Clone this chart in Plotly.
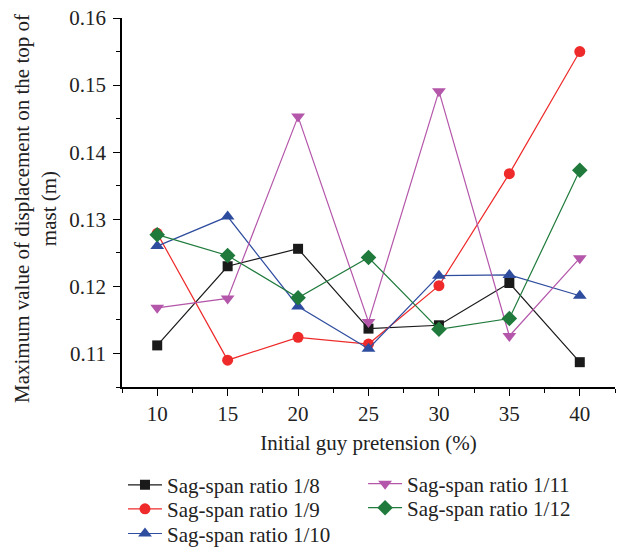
import plotly.graph_objects as go

# Initial guy pretension (%)
pretension = [10, 15, 20, 25, 30, 35, 40]

# Maximum displacement at mast top (m) for each sag-span ratio
ratio_1_8 = [0.1112, 0.1230, 0.1256, 0.1137, 0.1142, 0.1205, 0.1087]
ratio_1_9 = [0.1279, 0.1090, 0.1124, 0.1114, 0.1201, 0.1368, 0.1550]
ratio_1_10 = [0.1260, 0.1304, 0.1170, 0.1107, 0.1216, 0.1217, 0.1186]
ratio_1_11 = [0.1168, 0.1182, 0.1453, 0.1147, 0.1491, 0.1126, 0.1242]
ratio_1_12 = [0.1277, 0.1246, 0.1183, 0.1243, 0.1136, 0.1152, 0.1373]

series_names = ["Sag-span ratio 1/8", "Sag-span ratio 1/9", "Sag-span ratio 1/10",
                "Sag-span ratio 1/11", "Sag-span ratio 1/12"]
series_values = [ratio_1_8, ratio_1_9, ratio_1_10, ratio_1_11, ratio_1_12]
colors = ["#1a1a1a", "#ee2a2a", "#2f4d9f", "#b456a9", "#1f7a3c"]
symbols = ["square", "circle", "triangle-up", "triangle-down", "diamond"]
sizes = [10, 11, 12, 12, 12]

FONT = "Liberation Serif"
FS = 21

# One legend box per entry so the two-column key sits on a fixed grid
legend_ids = ["legend", "legend2", "legend3", "legend4", "legend5"]
legend_x = [0.002, 0.002, 0.002, 0.489, 0.489]
legend_y = [-0.266, -0.331, -0.398, -0.263, -0.328]

fig = go.Figure()
for name, vals, col, sym, sz, lg in zip(series_names, series_values, colors,
                                        symbols, sizes, legend_ids):
    fig.add_trace(go.Scatter(
        x=pretension, y=vals, name=name, mode="lines+markers",
        line=dict(color=col, width=1.2),
        marker=dict(symbol=sym, size=sz, color=col, line=dict(width=0)),
        legend=lg,
    ))

axis_common = dict(
    showline=True, linecolor="black", linewidth=1.5,
    ticks="outside", ticklen=7, tickwidth=1.2, tickcolor="black",
    showgrid=False, zeroline=False, mirror=False,
    tickfont=dict(family=FONT, size=FS, color="#222"),
)

fig.update_xaxes(
    range=[7.5, 42.5], tickvals=pretension, **axis_common,
    minor=dict(dtick=2.5, tick0=0, ticks="outside", ticklen=4,
               tickcolor="black", tickwidth=1.2),
    title=dict(text="Initial guy pretension (%)",
               font=dict(family=FONT, size=FS, color="#222"), standoff=10),
)
fig.update_yaxes(
    range=[0.105, 0.16], dtick=0.01, tick0=0.11, tickformat=".2f", **axis_common,
    ticklabelstandoff=3,
    minor=dict(dtick=0.005, tick0=0.105, ticks="outside", ticklen=4,
               tickcolor="black", tickwidth=1.2),
)

# Two-line rotated y-axis title
fig.add_annotation(
    text="Maximum value of displacement on the top of<br>mast (m)",
    xref="paper", yref="paper", x=-0.1765, y=0.485,
    xanchor="center", yanchor="middle", textangle=-90, showarrow=False,
    font=dict(family=FONT, size=FS, color="#222"), align="center",
)

layout_legends = {}
for lg, lx, ly in zip(legend_ids, legend_x, legend_y):
    layout_legends[lg] = dict(
        x=lx, y=ly, xanchor="left", yanchor="middle",
        orientation="v", bgcolor="rgba(0,0,0,0)",
        font=dict(family=FONT, size=FS, color="#222"),
        itemwidth=34,
    )

fig.update_layout(
    width=619, height=550,
    margin=dict(l=122, r=4, t=18, b=163, autoexpand=False),
    plot_bgcolor="white", paper_bgcolor="white",
    showlegend=True,
    **layout_legends,
)

fig.write_html("out.html")
